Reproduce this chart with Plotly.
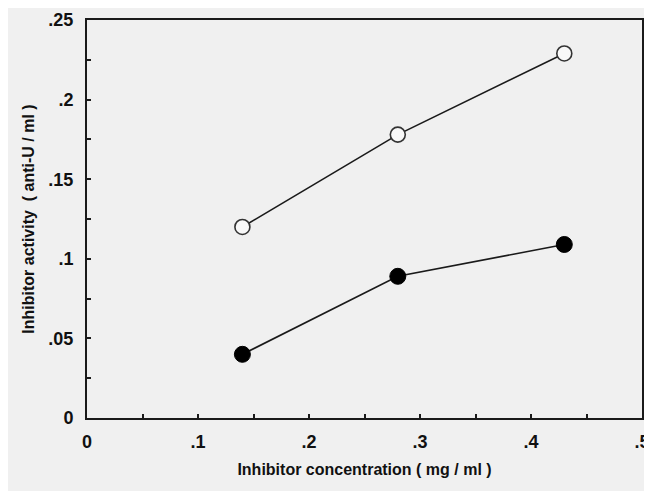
import plotly.graph_objects as go

conc = [0.14, 0.28, 0.43]
open_activity = [0.12, 0.178, 0.229]
filled_activity = [0.04, 0.089, 0.109]

x_tickvals = [0, 0.1, 0.2, 0.3, 0.4, 0.5]
x_ticktext = ["0", ".1", ".2", ".3", ".4", ".5"]
y_tickvals = [0, 0.05, 0.1, 0.15, 0.2, 0.25]
y_ticktext = ["0", ".05", ".1", ".15", ".2", ".25"]

fig = go.Figure()
fig.add_trace(go.Scatter(
    x=conc, y=open_activity, mode="lines+markers",
    line=dict(color="#1a1a1a", width=1.6),
    marker=dict(symbol="circle", size=15, color="#f8f8f8",
                line=dict(color="#333333", width=1.6)),
    showlegend=False))
fig.add_trace(go.Scatter(
    x=conc, y=filled_activity, mode="lines+markers",
    line=dict(color="#1a1a1a", width=1.6),
    marker=dict(symbol="circle", size=16, color="#000000",
                line=dict(color="#000000", width=1)),
    showlegend=False))

font = dict(family="Liberation Sans, Arial, sans-serif", size=16, color="#111111")

fig.update_layout(
    width=652, height=491,
    margin=dict(l=79, r=18, t=12, b=81, autoexpand=False),
    paper_bgcolor="#f0f0f0", plot_bgcolor="#f0f0f0",
    font=font,
)
fig.update_xaxes(
    range=[0, 0.5], tickvals=x_tickvals, ticktext=x_ticktext,
    showgrid=False, zeroline=False, automargin=False,
    showline=True, linecolor="#1a1a1a", linewidth=2, mirror=True,
    ticks="inside", ticklen=4, tickwidth=1.5, tickcolor="#1a1a1a",
    minor=dict(ticks="inside", ticklen=4, tickwidth=1.5, tickcolor="#1a1a1a", dtick=0.05, showgrid=False),
    tickfont=dict(size=18, weight="bold"), ticklabelstandoff=6,
    title=dict(text="Inhibitor concentration ( mg / ml )", font=dict(size=16, weight="bold"), standoff=13),
)
fig.update_yaxes(
    range=[0, 0.25], tickvals=y_tickvals, ticktext=y_ticktext,
    showgrid=False, zeroline=False, automargin=False,
    showline=True, linecolor="#1a1a1a", linewidth=2, mirror=True,
    ticks="inside", ticklen=4, tickwidth=1.5, tickcolor="#1a1a1a",
    minor=dict(ticks="inside", ticklen=4, tickwidth=1.5, tickcolor="#1a1a1a", dtick=0.025, showgrid=False),
    tickfont=dict(size=18, weight="bold"), ticklabelstandoff=8,
    title=dict(text="Inhibitor activity  ( anti-U / ml )", font=dict(size=16, weight="bold"), standoff=10),
)

fig.write_html("out.html")
